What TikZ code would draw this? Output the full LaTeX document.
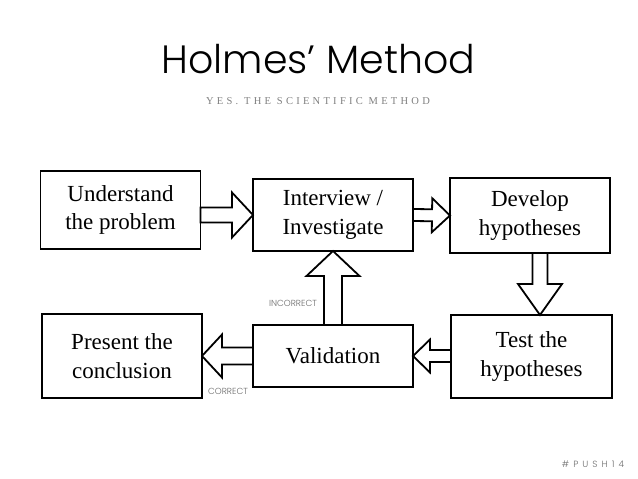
\documentclass[tikz,border=0pt]{standalone}
\usepackage{fontspec}
\setmainfont{Liberation Serif}
\newfontfamily\titlefont{Poppins Light}
\newfontfamily\subfont{Liberation Serif}[LetterSpace=31]
\newfontfamily\pushfont{Poppins Light}[LetterSpace=45]
\usetikzlibrary{calc}
\definecolor{txtgray}{gray}{0.5}
\definecolor{labgray}{gray}{0.42}
\tikzset{
  stepbox/.style={draw, line width=1.8pt, fill=white, inner sep=0pt, outer sep=0pt,
    align=center, font=\fontsize{23}{28.5}\selectfont},
  blkarrow/.style={draw, line width=1.8pt, fill=white, line join=miter},
  graylabel/.style={text=labgray, inner sep=0pt, font=\titlefont\fontsize{8.8}{10}\selectfont}
}
\newcommand{\blockarrow}[5]{%
  \coordinate (ba-h) at ($(#2)!#5!(#1)$);
  \draw[blkarrow] ($(#1)!#3!90:(#2)$) -- ($(ba-h)!#3!90:(#2)$) -- ($(ba-h)!#4!90:(#2)$)
    -- (#2) -- ($(ba-h)!#4!-90:(#2)$) -- ($(ba-h)!#3!-90:(#2)$) -- ($(#1)!#3!-90:(#2)$) -- cycle;
}
\begin{document}
\begin{tikzpicture}[x=1pt,y=-1pt]
\useasboundingbox[fill=white] (0,0) rectangle (638,479);
% title
\node[anchor=base, inner sep=0pt, font=\titlefont\fontsize{39.5}{42}\selectfont] (title) at (318.5,73) {Holmes’ Method};
\node[anchor=base, inner sep=0pt, text=txtgray, font=\subfont\fontsize{10.5}{12}\selectfont] (sub) at (318,104) {YES. THE SCIENTIFIC METHOD};
% boxes
\node[stepbox, minimum width=160pt, minimum height=78pt] (u) at (120.5,210) {Understand\\the problem};
\node[stepbox, minimum width=160pt, minimum height=72pt] (i) at (333,215) {Interview /\\Investigate};
\node[stepbox, minimum width=160pt, minimum height=75pt] (d) at (530,215.5) {Develop\\hypotheses};
\node[stepbox, minimum width=160pt, minimum height=62pt] (v) at (333,356) {Validation};
\node[stepbox, minimum width=160pt, minimum height=84pt] (p) at (122,356) {Present the\\conclusion};
\node[stepbox, minimum width=161pt, minimum height=83pt] (t) at (531.5,356.5) {Test the\\hypotheses};
% arrow end points
\coordinate (a1s) at (u.east |- i.west);
\coordinate (a3s) at ($(d.south)+(10,0)$);
\coordinate (a3e) at ($(t.north)+(8.5,0)$);
\coordinate (a4s) at (t.west |- v.east);
\coordinate (a5e) at (v.north |- i.south);
\coordinate (a6e) at (p.east |- v.west);
% arrows
\blockarrow{a1s}{i.west}{7.5pt}{22.5pt}{21pt}
\blockarrow{i.east}{d.west}{6pt}{17pt}{18pt}
\blockarrow{a3s}{a3e}{7.5pt}{22pt}{31pt}
\blockarrow{a4s}{v.east}{6pt}{16.5pt}{17pt}
\blockarrow{v.north}{a5e}{9pt}{26.5pt}{25pt}
\blockarrow{v.west}{a6e}{8.5pt}{21.5pt}{20pt}
% labels
\node[graylabel] (inc) at (293,303) {INCORRECT};
\node[graylabel] (cor) at (228,391) {CORRECT};
\node[anchor=base, inner sep=0pt, text=labgray, font=\pushfont\fontsize{9}{10}\selectfont] (push) at (593,467) {\#PUSH14};
\end{tikzpicture}
\end{document}
